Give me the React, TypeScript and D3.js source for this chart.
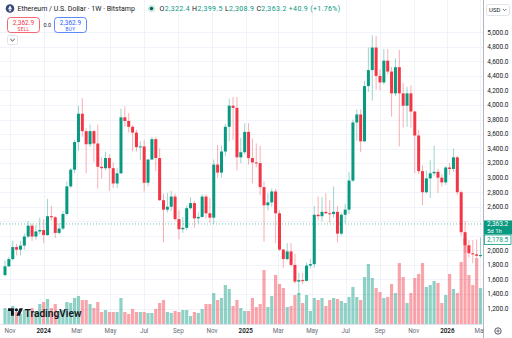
import * as React from 'react';
import { useRef, useEffect } from 'react';
import * as d3 from 'd3';

const WIDTH = 512;
const HEIGHT = 338;
const FONT = 'Roboto, "Noto Sans", sans-serif';

// weekly bars, each keyed by its Monday open
const firstWeek = new Date(Date.UTC(2023, 9, 23));
const lastWeek = new Date(Date.UTC(2026, 2, 2));

const opens = [
  1660, 1780, 1880, 2045, 2010, 2065, 2190, 2340, 2190, 2260,
  2280, 2210, 2470, 2455, 2240, 2300, 2500, 2880, 3110, 3490,
  3880, 3640, 3460, 3640, 3470, 3150, 3130, 3270, 3130, 2920,
  3060, 3830, 3780, 3700, 3620, 3420, 3430, 2930, 3250, 3530,
  3270, 2690, 2560, 2600, 2740, 2430, 2290, 2310, 2580, 2650,
  2440, 2460, 2740, 2510, 2450, 3180, 3070, 3360, 3700, 3990,
  3960, 3280, 3350, 3630, 3270, 3210, 3200, 2870, 2620, 2660,
  2810, 2510, 2010, 1880, 1985, 1800, 1570, 1590, 1580, 1790,
  1810, 2490, 2470, 2530, 2510, 2500, 2530, 2230, 2490, 2560,
  2960, 3760, 3870, 3500, 4260, 4480, 4790, 4400, 4310, 4610,
  4460, 4160, 4520, 4160, 3990, 4160, 3910, 3580, 3090, 2800,
  2990, 3060, 3080, 3000, 2935, 3140, 3120, 3280, 2800, 2250,
  2070, 1960, 1945, 1925,
];
const highs = [
  1865, 1910, 2135, 2090, 2130, 2230, 2400, 2370, 2350, 2450,
  2430, 2710, 2610, 2470, 2380, 2540, 2950, 3130, 3520, 3990,
  4095, 3680, 3730, 3660, 3730, 3280, 3360, 3320, 3210, 3130,
  3950, 3980, 3890, 3720, 3660, 3500, 3520, 3250, 3560, 3560,
  3400, 2780, 2790, 2820, 2780, 2550, 2460, 2620, 2730, 2680,
  2520, 2770, 2770, 2720, 3250, 3450, 3440, 3740, 4090, 4110,
  4110, 3550, 3750, 3750, 3540, 3470, 3440, 2950, 2790, 2850,
  2850, 2550, 2020, 2100, 2100, 1950, 1690, 1690, 1830, 1880,
  2610, 2740, 2730, 2790, 2690, 2880, 2610, 2520, 2640, 3080,
  3800, 3940, 3940, 4330, 4790, 4960, 4950, 4490, 4770, 4770,
  4520, 4640, 4760, 4300, 4250, 4270, 3920, 3660, 3170, 3100,
  3240, 3440, 3120, 3050, 3160, 3200, 3400, 3300, 2830, 2400,
  2140, 2140, 2150, 2178.5,
];
const lows = [
  1640, 1770, 1860, 1930, 1930, 2010, 2170, 2130, 2150, 2220,
  2100, 2200, 2410, 2170, 2220, 2280, 2480, 2860, 3060, 3370,
  3560, 3060, 3420, 3210, 2850, 2990, 3100, 2820, 2860, 2860,
  3050, 3700, 3620, 3360, 3360, 3240, 2810, 2880, 3240, 3090,
  2680, 2110, 2520, 2540, 2410, 2150, 2240, 2280, 2560, 2310,
  2370, 2450, 2440, 2380, 2360, 3000, 3000, 3300, 3500, 3520,
  3100, 3200, 3320, 3180, 2920, 3140, 2760, 2120, 2550, 2600,
  2100, 1990, 1760, 1860, 1780, 1540, 1385, 1540, 1570, 1750,
  1760, 2410, 2400, 2500, 2380, 2450, 2110, 2200, 2370, 2500,
  2940, 3510, 3350, 3490, 4180, 4060, 4210, 4200, 4280, 4420,
  3840, 4120, 3430, 3690, 3700, 3690, 3060, 3050, 2620, 2780,
  2720, 3020, 2790, 2880, 2900, 3040, 3080, 2760, 2200, 1960,
  1900, 1820, 1900, 1900,
];
const closes = [
  1780, 1880, 2045, 2010, 2065, 2190, 2340, 2190, 2260, 2280,
  2210, 2470, 2455, 2240, 2300, 2500, 2880, 3110, 3490, 3880,
  3640, 3460, 3640, 3470, 3150, 3130, 3270, 3130, 2920, 3060,
  3830, 3780, 3700, 3620, 3420, 3430, 2930, 3250, 3530, 3270,
  2690, 2560, 2600, 2740, 2430, 2290, 2310, 2580, 2650, 2440,
  2460, 2740, 2510, 2450, 3180, 3070, 3360, 3700, 3990, 3960,
  3280, 3350, 3630, 3270, 3210, 3200, 2870, 2620, 2660, 2810,
  2510, 2010, 1880, 1985, 1800, 1570, 1590, 1580, 1790, 1810,
  2490, 2470, 2530, 2510, 2500, 2530, 2230, 2490, 2560, 2960,
  3760, 3870, 3500, 4260, 4480, 4790, 4400, 4310, 4610, 4460,
  4160, 4520, 4160, 3990, 4160, 3910, 3580, 3090, 2800, 2990,
  3060, 3080, 3000, 2935, 3140, 3120, 3280, 2800, 2250, 2070,
  1960, 1945, 1925, 1935,
];
// thousand ETH per week
const volumes = [
  48, 42, 54, 36, 30, 42, 42, 48, 36, 60,
  66, 75, 48, 60, 39, 42, 66, 63, 78, 84,
  72, 72, 60, 48, 66, 36, 42, 36, 36, 36,
  78, 36, 30, 45, 36, 36, 36, 33, 33, 45,
  63, 72, 36, 33, 39, 36, 42, 42, 24, 36,
  33, 45, 60, 60, 93, 72, 78, 117, 105, 54,
  72, 48, 39, 39, 78, 51, 60, 162, 51, 84,
  147, 120, 108, 51, 54, 87, 93, 63, 87, 39,
  78, 72, 78, 54, 72, 78, 75, 69, 63, 81,
  111, 81, 72, 141, 180, 138, 108, 96, 78, 81,
  120, 93, 183, 141, 63, 93, 138, 150, 183, 111,
  117, 129, 123, 63, 87, 150, 105, 93, 186, 258,
  147, 117, 198, 108,
];

const priceTicks = [1200, 1400, 1600, 1800, 2000, 2200, 2400, 2600, 2800, 3000,
  3200, 3400, 3600, 3800, 4000, 4200, 4400, 4600, 4800, 5000];

const symbolTitle = 'Ethereum / U.S. Dollar · 1W · Bitstamp';
const ohlcKeys = ['O', 'H', 'L', 'C'];
const ohlcValues = [2322.4, 2399.5, 2308.9, 2363.2];
const change = 40.9;
const changePct = 1.76;
const bidPrice = 2362.9;
const askPrice = 2362.9;
const spread = 0.0;
const lastPrice = 2363.2;
const countdown = '5d 1h';
const prevMarker = 2178.5;

const UP = '#089981';
const DOWN = '#f23645';
const TEXT = '#131722';

const fmt = d3.format(',.1f');

export default function App() {
  const svgRef = useRef<SVGSVGElement | null>(null);

  useEffect(() => {
    if (!svgRef.current) return;
    const svg = d3.select(svgRef.current);
    svg.selectAll('*').remove();

    const paneRight = 483.5;
    const paneBottom = 324;

    const weeks = d3.utcMonday.range(firstWeek, d3.utcDay.offset(lastWeek, 1));
    const bars = weeks.map((d, i) => ({
      date: d, open: opens[i], high: highs[i], low: lows[i], close: closes[i], volume: volumes[i],
    }));

    const x = d3.scaleUtc().domain([firstWeek, lastWeek]).range([5, 480.5]);
    const y = d3.scaleLinear().domain([1200, 5000]).range([308.5, 32.3]);
    const yVol = d3.scaleLinear().domain([0, 300]).range([paneBottom, paneBottom - 100]);

    svg.append('rect').attr('width', WIDTH).attr('height', HEIGHT).attr('fill', '#fff');

    const defs = svg.append('defs');
    defs.append('clipPath').attr('id', 'pane')
      .append('rect').attr('x', 0).attr('y', 0).attr('width', paneRight).attr('height', paneBottom);

    const pane = svg.append('g').attr('clip-path', 'url(#pane)');

    // grid
    const monthTicks = d3.utcMonth.every(2)!.range(firstWeek, d3.utcMonth.offset(lastWeek, 1));
    pane.selectAll('line.vgrid').data(monthTicks).join('line')
      .attr('x1', d => Math.round(x(d)) + 0.5).attr('x2', d => Math.round(x(d)) + 0.5)
      .attr('y1', 0).attr('y2', paneBottom)
      .attr('stroke', '#f0f3fa').attr('stroke-width', 1);
    pane.selectAll('line.hgrid').data(priceTicks).join('line')
      .attr('x1', 0).attr('x2', paneRight)
      .attr('y1', d => Math.round(y(d)) + 0.5).attr('y2', d => Math.round(y(d)) + 0.5)
      .attr('stroke', '#f0f3fa').attr('stroke-width', 1);

    // volume
    pane.selectAll('rect.vol').data(bars).join('rect')
      .attr('x', d => x(d.date) - 1.6)
      .attr('width', 3.2)
      .attr('y', d => yVol(d.volume))
      .attr('height', d => paneBottom - yVol(d.volume))
      .attr('fill', d => (d.close >= d.open ? UP : DOWN))
      .attr('fill-opacity', 0.45);

    // last price line
    pane.append('line')
      .attr('x1', 0).attr('x2', paneRight)
      .attr('y1', y(lastPrice)).attr('y2', y(lastPrice))
      .attr('stroke', UP).attr('stroke-opacity', 0.6)
      .attr('stroke-dasharray', '1,2').attr('stroke-width', 1);

    // candles
    pane.selectAll('line.wick').data(bars).join('line')
      .attr('x1', d => x(d.date)).attr('x2', d => x(d.date))
      .attr('y1', d => y(d.high)).attr('y2', d => y(d.low))
      .attr('stroke', d => (d.close >= d.open ? UP : DOWN))
      .attr('stroke-opacity', 0.4)
      .attr('stroke-width', 1);
    pane.selectAll('rect.body').data(bars).join('rect')
      .attr('x', d => x(d.date) - 1.5)
      .attr('width', 3)
      .attr('y', d => y(Math.max(d.open, d.close)))
      .attr('height', d => Math.max(1, Math.abs(y(d.open) - y(d.close))))
      .attr('fill', d => (d.close >= d.open ? UP : DOWN));

    // symbol header
    const eth = svg.append('g').attr('transform', 'translate(10,8.5)');
    eth.append('circle').attr('r', 4.3).attr('fill', '#3b4a7a');
    eth.append('path').attr('d', 'M0,-3 L1.8,0.2 L0,1.2 L-1.8,0.2Z M0,1.8 L1.8,0.8 L0,3.2 L-1.8,0.8Z').attr('fill', '#fff');

    svg.append('text')
      .attr('x', 17.5).attr('y', 11)
      .attr('font-family', FONT).attr('font-size', 7).attr('fill', TEXT)
      .text(symbolTitle);

    svg.append('circle').attr('cx', 151.5).attr('cy', 8.5).attr('r', 3.6).attr('fill', UP).attr('fill-opacity', 0.22);
    svg.append('circle').attr('cx', 151.5).attr('cy', 8.5).attr('r', 1.7).attr('fill', '#0b5e50');

    const ohlc = svg.append('text')
      .attr('x', 159.5).attr('y', 11)
      .attr('font-family', FONT).attr('font-size', 7).attr('letter-spacing', 0.35);
    ohlcKeys.forEach((k, i) => {
      ohlc.append('tspan').attr('fill', TEXT).text((i ? ' ' : '') + k);
      ohlc.append('tspan').attr('fill', UP).text(fmt(ohlcValues[i]));
    });
    ohlc.append('tspan').attr('fill', UP)
      .text(` ${change >= 0 ? '+' : ''}${fmt(change)} (${changePct >= 0 ? '+' : ''}${changePct.toFixed(2)}%)`);

    // sell / buy buttons
    const tradeBox = (bx: number, color: string, price: number, label: string) => {
      const g = svg.append('g');
      g.append('rect').attr('x', bx).attr('y', 17.5).attr('width', 32).attr('height', 15).attr('rx', 3)
        .attr('fill', '#fff').attr('stroke', color).attr('stroke-opacity', 0.75);
      g.append('text').attr('x', bx + 16).attr('y', 24.5).attr('text-anchor', 'middle')
        .attr('font-family', FONT).attr('font-size', 6.5).attr('fill', color).text(fmt(price));
      g.append('text').attr('x', bx + 16).attr('y', 30.5).attr('text-anchor', 'middle')
        .attr('font-family', FONT).attr('font-size', 4.8).attr('fill', color).attr('letter-spacing', 0.3).text(label);
    };
    tradeBox(7.5, DOWN, bidPrice, 'SELL');
    tradeBox(54.5, '#2962ff', askPrice, 'BUY');
    svg.append('text').attr('x', 47.3).attr('y', 27).attr('text-anchor', 'middle')
      .attr('font-family', FONT).attr('font-size', 5.5).attr('fill', TEXT).text(spread.toFixed(1));

    svg.append('rect').attr('x', 7.5).attr('y', 35.5).attr('width', 10).attr('height', 9).attr('rx', 2)
      .attr('fill', '#fff').attr('stroke', '#e0e3eb');
    svg.append('path').attr('d', 'M10.3,39 L12.5,41 L14.7,39').attr('fill', 'none')
      .attr('stroke', TEXT).attr('stroke-width', 0.8);

    // logo
    const logo = svg.append('g').attr('transform', 'translate(8,306.5) scale(0.42)');
    logo.append('path').attr('d', 'M14 22H7V11H0V4h14v18zM28 22h-8l7.5-18h8L28 22z').attr('fill', TEXT);
    logo.append('circle').attr('cx', 20).attr('cy', 8).attr('r', 4).attr('fill', TEXT);
    svg.append('text').attr('x', 24.5).attr('y', 316.5)
      .attr('font-family', FONT).attr('font-size', 10.5).attr('font-weight', 600)
      .attr('fill', TEXT).attr('textLength', 57).attr('lengthAdjust', 'spacingAndGlyphs')
      .text('TradingView');

    // price scale
    svg.append('rect').attr('x', paneRight).attr('y', 0).attr('width', WIDTH - paneRight).attr('height', HEIGHT).attr('fill', '#fff');
    svg.append('line').attr('x1', paneRight).attr('x2', paneRight).attr('y1', 0).attr('y2', HEIGHT)
      .attr('stroke', '#b2b5be').attr('stroke-width', 1);
    svg.append('line').attr('x1', 0).attr('x2', paneRight).attr('y1', paneBottom + 0.5).attr('y2', paneBottom + 0.5)
      .attr('stroke', '#e0e3eb').attr('stroke-width', 1);

    const busy = [y(lastPrice), y(lastPrice) + 12];
    svg.selectAll('text.ptick').data(priceTicks.filter(t => busy.every(b => Math.abs(y(t) - b) > 7))).join('text')
      .attr('x', 508.5).attr('y', d => y(d) + 2.3).attr('text-anchor', 'end')
      .attr('font-family', FONT).attr('font-size', 6.5).attr('fill', TEXT)
      .text(d => fmt(d));

    svg.append('rect').attr('x', 486.5).attr('y', 4.5).attr('width', 23).attr('height', 11).attr('rx', 2)
      .attr('fill', '#fff').attr('stroke', '#e0e3eb');
    svg.append('text').attr('x', 489).attr('y', 12.3)
      .attr('font-family', FONT).attr('font-size', 6).attr('fill', TEXT).text('USD');
    svg.append('path').attr('d', 'M503,9 L504.6,10.6 L506.2,9').attr('fill', 'none')
      .attr('stroke', TEXT).attr('stroke-width', 0.6);

    // last price and marker labels
    const ly = y(lastPrice);
    svg.append('rect').attr('x', paneRight + 0.5).attr('y', ly - 3.5).attr('width', WIDTH - paneRight - 0.5).attr('height', 14)
      .attr('fill', UP);
    svg.append('text').attr('x', 487).attr('y', ly + 2.3)
      .attr('font-family', FONT).attr('font-size', 6.5).attr('fill', '#fff').text(fmt(lastPrice));
    svg.append('text').attr('x', 487).attr('y', ly + 8.8)
      .attr('font-family', FONT).attr('font-size', 6).attr('fill', '#fff').text(countdown);

    const my = ly + 11;
    svg.append('rect').attr('x', paneRight + 1).attr('y', my).attr('width', WIDTH - paneRight - 2).attr('height', 9.5)
      .attr('fill', '#fff').attr('stroke', UP).attr('stroke-width', 0.8);
    svg.append('text').attr('x', 487).attr('y', my + 7)
      .attr('font-family', FONT).attr('font-size', 6.5).attr('fill', UP).text(fmt(prevMarker));

    // time scale
    const axisClip = defs.append('clipPath').attr('id', 'timeaxis');
    axisClip.append('rect').attr('x', 0).attr('y', paneBottom).attr('width', paneRight).attr('height', HEIGHT - paneBottom);
    svg.append('g').attr('clip-path', 'url(#timeaxis)')
      .selectAll('text').data(monthTicks).join('text')
      .attr('x', d => x(d)).attr('y', 332.5).attr('text-anchor', 'middle')
      .attr('font-family', FONT).attr('font-size', 6.3)
      .attr('font-weight', d => (d.getUTCMonth() === 0 ? 600 : 400))
      .attr('fill', d => (d.getUTCMonth() === 0 ? TEXT : '#6a6d78'))
      .text(d => (d.getUTCMonth() === 0 ? d3.utcFormat('%Y')(d) : d3.utcFormat('%b')(d)));

    const gear = svg.append('g').attr('transform', 'translate(498,331)');
    gear.append('circle').attr('r', 3.2).attr('fill', 'none').attr('stroke', TEXT).attr('stroke-width', 0.7);
    gear.append('circle').attr('r', 1.1).attr('fill', 'none').attr('stroke', TEXT).attr('stroke-width', 0.6);
  }, []);

  return (
    <div style={{ position: 'absolute', left: 0, top: 0, width: WIDTH, height: HEIGHT }}>
      <svg ref={svgRef} width={WIDTH} height={HEIGHT} style={{ display: 'block' }} />
    </div>
  );
}
